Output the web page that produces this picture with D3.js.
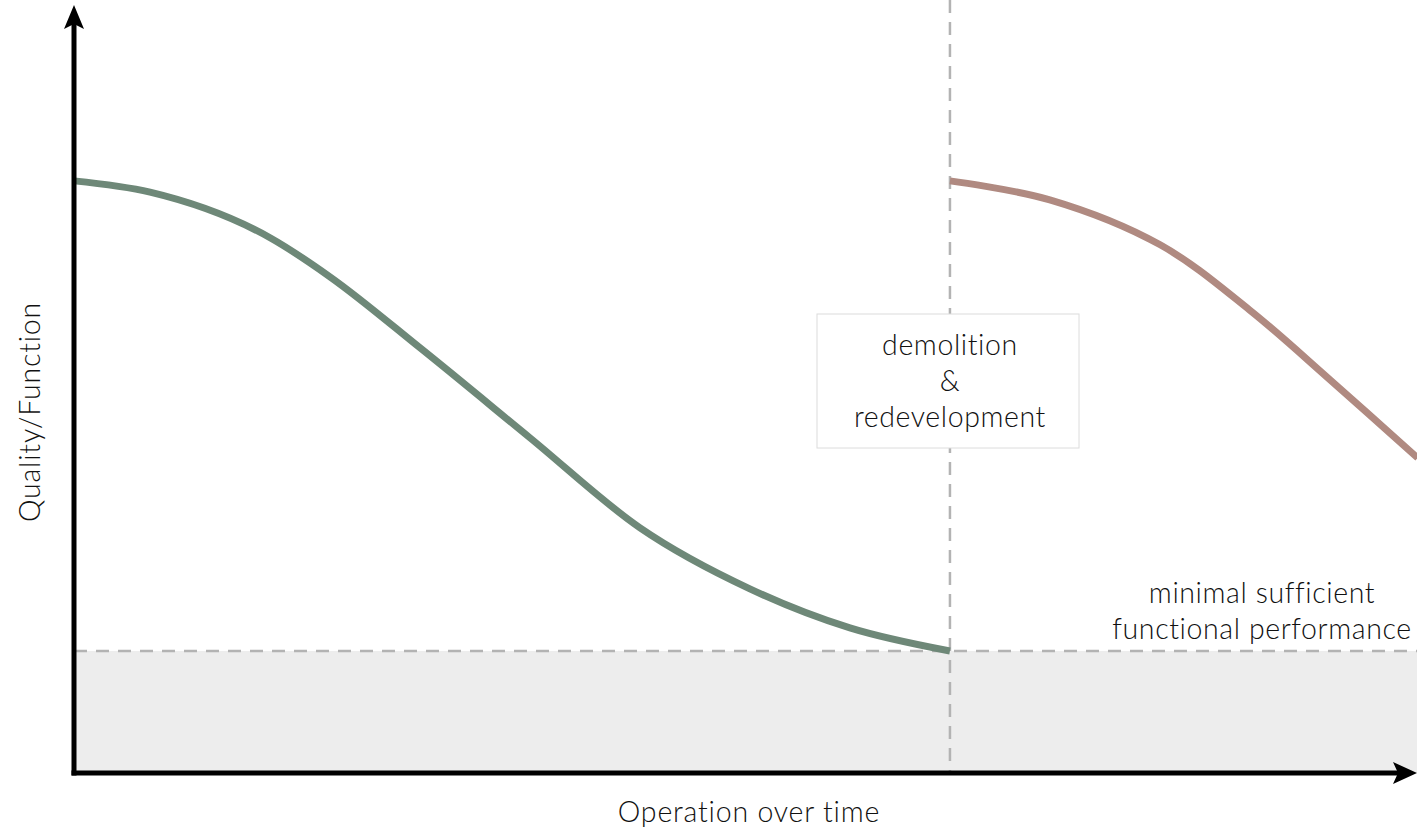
<!DOCTYPE html>
<html><head><meta charset="utf-8">
<script src="https://cdn.jsdelivr.net/npm/d3@7"></script>
<style>
html,body{margin:0;padding:0;background:#fff;}
svg{display:block;}
text{font-family:"Lato","Open Sans",sans-serif;font-weight:300;fill:#111;}
</style></head>
<body>
<svg id="c" width="1417" height="833"></svg>
<script>
// Data (time units, quality %)
const firstLifeT = [0, 4.34, 11.19, 14.61, 19.75, 26.03, 32.31, 38.58, 44.29, 50];
const firstLifeQ = [100, 98.1, 90.4, 83.8, 71.8, 56.6, 41.4, 31.1, 24.5, 20.6];
const secondLifeT = [50, 55.7, 62.0, 67.1, 71.7, 76.7];
const secondLifeQ = [100, 96.8, 89.2, 78.2, 66.4, 53.2];
const thresholdQ = 20.6;
const demolitionT = 50;
const xLabel = "Operation over time";
const yLabel = "Quality/Function";
const boxLines = ["demolition", "&", "redevelopment"];
const thresholdLines = ["minimal sufficient", "functional performance"];

const svg = d3.select("#c");
const x = d3.scaleLinear().domain([0, 76.66]).range([74, 1417]);
const y = d3.scaleLinear().domain([0, 129.7]).range([773, 5]);

// threshold shading
svg.append("rect").attr("x", x(0)).attr("y", y(thresholdQ))
  .attr("width", x(76.66) - x(0)).attr("height", y(0) - y(thresholdQ))
  .attr("fill", "#ededed");

// dashed threshold line
svg.append("line").attr("x1", x(0)).attr("x2", x(76.66))
  .attr("y1", y(thresholdQ)).attr("y2", y(thresholdQ))
  .attr("stroke", "#b3b3b3").attr("stroke-width", 2.5).attr("stroke-dasharray", "13,9");

// vertical dashed line
svg.append("line").attr("x1", x(demolitionT)).attr("x2", x(demolitionT))
  .attr("y1", 0).attr("y2", y(0))
  .attr("stroke", "#b3b3b3").attr("stroke-width", 2.5).attr("stroke-dasharray", "13,9");

const lineA = d3.line().x(d => x(d[0])).y(d => y(d[1])).curve(d3.curveMonotoneX);
const lineB = d3.line().x(d => x(d[0])).y(d => y(d[1])).curve(d3.curveCatmullRom.alpha(0.5));
svg.append("path").datum(firstLifeT.map((t, i) => [t, firstLifeQ[i]]))
  .attr("d", lineA).attr("fill", "none").attr("stroke", "#6e8878").attr("stroke-width", 7);
svg.append("path").datum(secondLifeT.map((t, i) => [t, secondLifeQ[i]]))
  .attr("d", lineB).attr("fill", "none").attr("stroke", "#b08a81").attr("stroke-width", 7);

// axes
svg.append("line").attr("x1", x(0)).attr("x2", x(0)).attr("y1", y(0) + 2.5).attr("y2", 24)
  .attr("stroke", "#000").attr("stroke-width", 5);
svg.append("line").attr("x1", x(0) - 2.5).attr("x2", 1398).attr("y1", y(0)).attr("y2", y(0))
  .attr("stroke", "#000").attr("stroke-width", 5);
svg.append("path").attr("d", `M${x(0)},5 L${x(0)-10},29 L${x(0)},24 L${x(0)+10},29 Z`).attr("fill", "#000");
svg.append("path").attr("d", `M1417,${y(0)} L1393,${y(0)-11} L1398,${y(0)} L1393,${y(0)+11} Z`).attr("fill", "#000");

// box
const bx = x(demolitionT);
svg.append("rect").attr("x", 817).attr("y", 314).attr("width", 262).attr("height", 134)
  .attr("fill", "#fff").attr("stroke", "#dcdcdc").attr("stroke-width", 1);
svg.append("text").attr("text-anchor", "middle").attr("font-size", 28.5).attr("letter-spacing", 0.6)
  .selectAll("tspan").data(boxLines).join("tspan")
  .attr("x", bx).attr("y", (d, i) => 355 + i * 36).text(d => d);

// threshold label
svg.append("text").attr("text-anchor", "middle").attr("font-size", 28.5).attr("letter-spacing", 0.6)
  .selectAll("tspan").data(thresholdLines).join("tspan")
  .attr("x", 1262).attr("y", (d, i) => 603 + i * 36).text(d => d);

// axis labels
svg.append("text").attr("text-anchor", "middle").attr("font-size", 28.5).attr("letter-spacing", 0.8)
  .attr("x", 749).attr("y", 822).text(xLabel);
svg.append("text").attr("text-anchor", "middle").attr("font-size", 28.5).attr("letter-spacing", 0.8)
  .attr("transform", "translate(40,412) rotate(-90)").text(yLabel);
</script>
</body></html>
